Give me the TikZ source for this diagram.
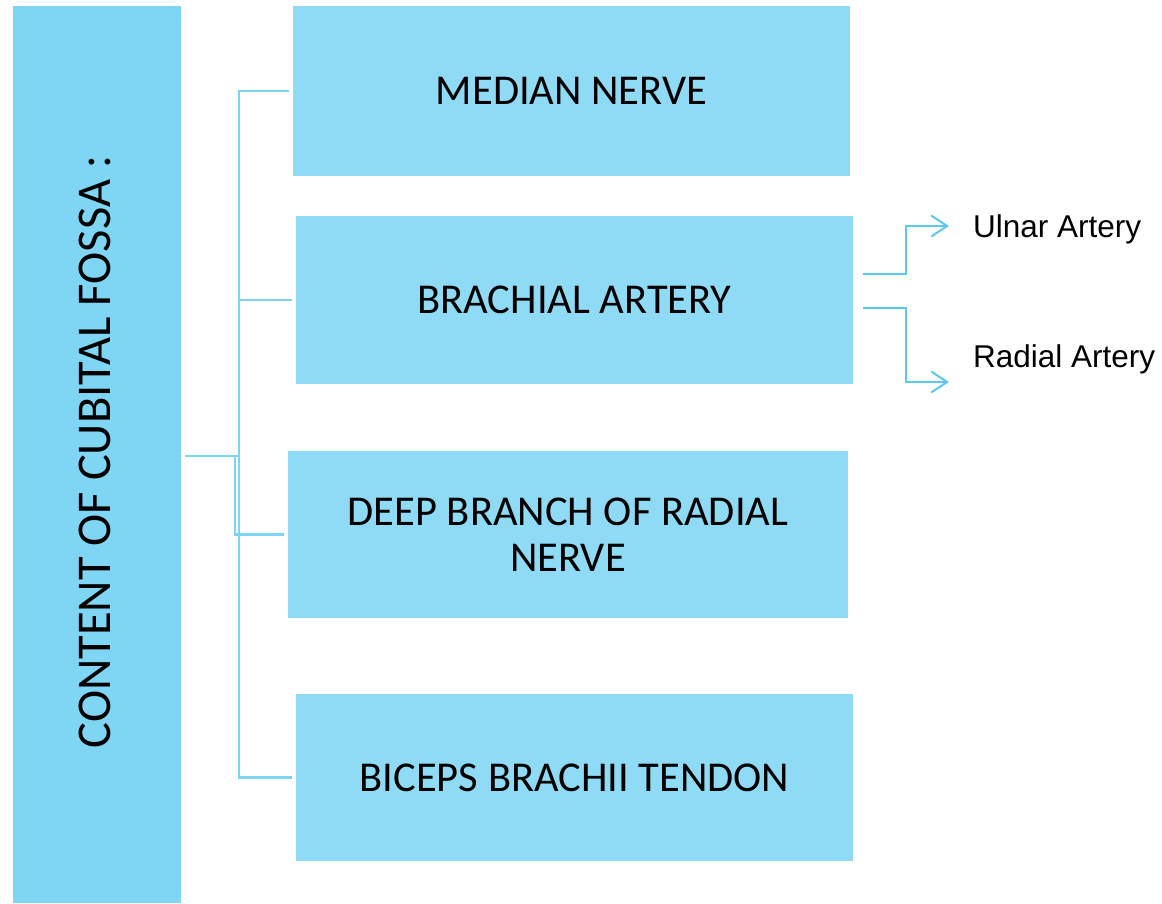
\documentclass[tikz,border=0pt]{standalone}
\usepackage{fontspec}
\setmainfont{Carlito}
\newfontfamily\arialfont{Liberation Sans}
\usetikzlibrary{arrows.meta}
\definecolor{fossablue}{HTML}{7FD6F4}
\definecolor{itemblue}{HTML}{8FDBF6}
\definecolor{linkblue}{HTML}{7ED4F3}
\definecolor{arrowblue}{HTML}{5CC8F0}
\tikzset{
  itembox/.style={fill=itemblue, draw=none, inner sep=0pt, align=center,
    font=\fontsize{42.5}{46}\selectfont},
  conn/.style={draw=linkblue, line width=2.5pt},
  branch/.style={draw=arrowblue, line width=2pt, -{Straight Barb[length=16pt,width=21pt,line width=2pt]}},
  sidelabel/.style={inner sep=0pt, anchor=west, font=\arialfont\fontsize{31.5}{36}\selectfont}
}
\begin{document}
\begin{tikzpicture}[x=1pt, y=-1pt]
\useasboundingbox (0,0) rectangle (1162,903);

% Main box
\node[fill=fossablue, minimum width=168pt, minimum height=897pt, inner sep=0pt]
  (fossa) at (97,454.5) {};
\node[rotate=90, font=\fontsize{48.5}{56}\selectfont] (fossatext) at (95,452) {CONTENT OF CUBITAL FOSSA :};

% Content boxes
\node[itembox, minimum width=557pt, minimum height=170pt] (median) at (571.5,91) {MEDIAN NERVE};
\node[itembox, minimum width=557pt, minimum height=168pt] (brachial) at (574.5,300) {BRACHIAL ARTERY};
\node[itembox, minimum width=560pt, minimum height=167pt] (deep) at (568,534.5) {DEEP BRANCH OF RADIAL\\NERVE};
\node[itembox, minimum width=557pt, minimum height=167pt] (biceps) at (574.5,777.5) {BICEPS BRACHII TENDON};

% Connectors
\coordinate (root) at (185,456);
\foreach \b/\x in {median/239, brachial/239, deep/235, biceps/239}
  \draw[conn] (root) -- (\x,456) |- ([xshift=-4pt]\b.west);

% Branches of brachial artery
\node[sidelabel] (ulnar) at (973,229) {Ulnar Artery};
\node[sidelabel] (radial) at (973,359) {Radial Artery};
\draw[branch] ([xshift=10pt,yshift=26pt]brachial.east) -| ([xshift=-67pt,yshift=3pt]ulnar.west) -- ([xshift=-24pt,yshift=3pt]ulnar.west);
\draw[branch] ([xshift=10pt,yshift=-8pt]brachial.east) -| ([xshift=-67pt,yshift=-23pt]radial.west) -- ([xshift=-24pt,yshift=-23pt]radial.west);

\end{tikzpicture}
\end{document}
